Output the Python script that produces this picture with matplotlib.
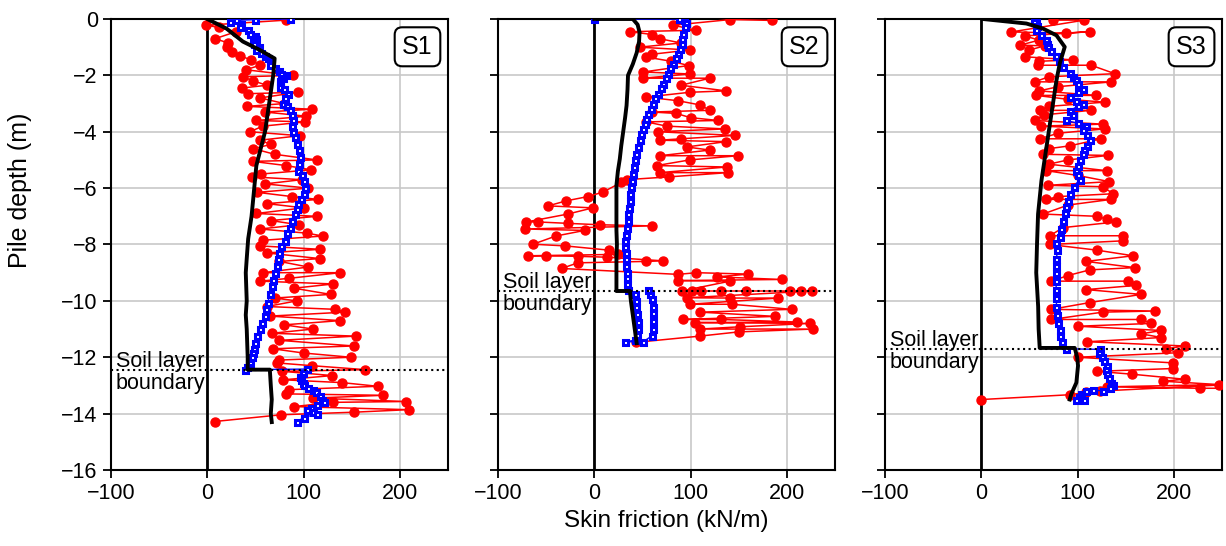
import numpy as np
import matplotlib.pyplot as plt

plt.rcParams['font.family'] = ['Liberation Sans', 'DejaVu Sans']

# ---------------- data ----------------
# S1
s1_red_depth = [-0.04, -0.22, -0.3, -0.45, -0.7, -0.85, -1.0, -1.16, -1.3, -1.45, -1.64, -1.8,
                -2.0, -2.05, -2.2, -2.35, -2.45, -2.65, -2.6, -2.8, -3.0, -3.1, -3.2, -3.3, -3.45,
                -3.6, -3.65, -3.8, -4.0, -4.14, -4.3, -4.45, -4.6, -4.8, -5.0, -5.05, -5.2, -5.35,
                -5.5, -5.6, -5.7, -5.85, -6.0, -6.15, -6.3, -6.4, -6.55, -6.7, -6.9, -7.0, -7.15,
                -7.3, -7.45, -7.6, -7.7, -7.85, -8.05, -8.17, -8.3, -8.5, -8.6, -8.8, -9.0, -9.0,
                -9.2, -9.3, -9.4, -9.55, -9.77, -9.9, -10.0, -10.2, -10.3, -10.4, -10.54, -10.7,
                -10.85, -11.0, -11.15, -11.25, -11.4, -11.6, -11.7, -11.85, -12.0, -12.1, -12.2,
                -12.3, -12.44, -12.5, -12.65, -12.8, -12.9, -13.03, -13.15, -13.3, -13.35, -13.45,
                -13.57, -13.6, -13.75, -13.86, -13.95, -14.04, -14.28]
s1_red_val = [82, -1, 12, 30, 8, 22, 20, 26, 34, 45, 55, 40,
              89, 37, 48, 62, 36, 42, 94, 55, 80, 41, 109, 60, 103,
              51, 102, 58, 44, 96, 55, 66, 48, 70, 114, 47, 82, 108,
              56, 46, 98, 60, 105, 52, 88, 115, 62, 100, 51, 114, 66,
              95, 55, 104, 120, 58, 55, 117, 62, 117, 75, 105, 58, 138,
              85, 55, 131, 90, 128, 70, 93, 62, 133, 143, 65, 138,
              80, 110, 67, 154, 75, 152, 68, 100, 149, 75, 72,
              109, 164, 78, 130, 79, 140, 177, 85, 82, 183, 110,
              206, 131, 90, 209, 152, 77, 7.6]

s1_blue_depth = [0, -0.02, -0.05, -0.1, -0.18, -0.28, -0.4, -0.52, -0.62, -0.7, -0.8, -0.87,
                 -1.0, -1.1, -1.2, -1.3, -1.4, -1.47, -1.55, -1.64, -1.75, -1.85, -1.94, -2.0,
                 -2.1, -2.2, -2.3, -2.41, -2.5, -2.65, -2.8, -3.0, -3.1, -3.24, -3.4, -3.6, -3.8,
                 -4.0, -4.2, -4.43, -4.65, -4.9, -5.15, -5.38, -5.55, -5.74, -6.0, -6.21, -6.4,
                 -6.57, -6.75, -6.92, -7.15, -7.4, -7.6, -7.87, -8.05, -8.3, -8.52, -8.75, -9.0,
                 -9.25, -9.47, -9.75, -10.06, -10.3, -10.54, -10.8, -11.0, -11.25, -11.5, -11.7,
                 -11.85, -12.0, -12.2, -12.35, -12.44,
                 -12.42, -12.55, -12.7, -12.8, -12.9, -13.0, -13.1, -13.15, -13.25, -13.37, -13.5,
                 -13.6, -13.7, -13.8, -13.86, -13.95, -14.0, -14.15, -14.28]
s1_blue_val = [86, 50, 30, 24, 35, 34, 42, 44, 50, 51, 48, 49,
               54, 51, 56, 60, 63, 65, 66, 65, 70, 74, 77, 82,
               79, 76, 76, 75.5, 80, 84, 81, 79, 83, 86, 88, 89.5, 88,
               89.5, 91, 93, 95, 96.4, 95, 94.7, 98, 100, 101, 100, 97,
               94.7, 93, 91, 88, 86, 83, 80.8, 77, 75, 73.8, 72, 70,
               68.5, 67, 65, 63, 61.5, 60, 57, 54.6, 52, 49.4, 48.5,
               47.6, 46, 44, 41, 39,
               103.5, 99, 96.4, 97, 99, 100, 105, 110, 113, 117, 119,
               120.8, 114, 108, 103.5, 110, 114, 100, 93]

s1_black_depth = [0, -0.34, -0.8, -1.1, -1.4, -2.0, -2.83, -4.0, -5.2, -6.4, -7.0, -7.8, -8.5,
                  -9.0, -9.5, -10.0, -10.5, -11.0, -11.5, -12.0, -12.44, -12.44, -13.0, -13.5,
                  -14.0, -14.3]
s1_black_val = [0, 20, 37, 54.6, 70, 68.5, 65, 60, 51, 47.7, 46, 42.5, 41,
                40, 40.5, 41, 40, 41, 41.5, 42, 42, 65, 66, 67, 66, 67]

# S2
s2_red_depth = [-0.05, -0.02, -0.22, -0.4, -0.45, -0.55, -0.7, -0.85, -1.0, -1.1, -1.25, -1.35,
                -1.5, -1.65, -1.88, -1.95, -2.1, -2.1, -2.35, -2.55, -2.6, -2.77, -2.9, -3.05,
                -3.24, -3.3, -3.35, -3.5, -3.6, -3.65, -3.8, -3.9, -4.0, -4.13, -4.25, -4.3,
                -4.35, -4.54, -4.65, -4.85, -4.85, -5.0, -5.2, -5.25, -5.45, -5.45, -5.6, -5.7,
                -5.8, -6.14, -6.3, -6.45, -6.63, -6.7, -6.92, -7.2, -7.2, -7.25, -7.3, -7.34,
                -7.45, -7.5, -7.7, -7.99, -8.05, -8.2, -8.35, -8.4, -8.4, -8.42, -8.45, -8.58,
                -8.6, -8.65, -8.85, -9.06, -9.0, -9.05, -9.15, -9.24, -9.28, -9.3, -9.65, -9.65,
                -9.65, -9.65, -9.65, -9.65, -9.65, -9.65, -9.89, -9.9, -9.9, -10.12, -10.12,
                -10.3, -10.4, -10.55, -10.66, -10.66, -10.75, -10.77, -10.8, -10.92, -11.0,
                -11.0, -11.1, -11.25, -11.47]
s2_red_val = [185, 141, 82, 106, 37, 60, 68, 90, 47, 99, 60, 54,
              80, 98, 51, 99, 51, 120, 90, 137, 99, 54, 87, 110,
              120, 60, 85, 100, 128.6, 54, 75, 135.6, 66, 146, 90, 68,
              137, 96, 120, 68, 149.5, 99, 64.7, 137.7, 68, 139, 78, 33.5,
              28, 9, -6.7, -29, -48, -1.5, -27.5, -70.5, -58.5, -27.5, 5.7, 59.5,
              -72, -10, -40, -63.6, -30, 15, 25, -68.8, -49.7, -16.8, 12.7, 71.5,
              54, -17, -34, 87, 106, 160, 127, 194.6, 87, 141, 90.6, 101,
              111, 132, 158, 203, 215, 226, 96, 141, 191, 99, 142.6,
              205, 110, 188, 92, 132, 210, 104.5, 224, 151, 109.7,
              227.5, 150, 109.7, 43.8]

s2_blue_depth = [0, 0, -0.05, -0.15, -0.3, -0.52, -0.7, -0.87, -1.05, -1.23, -1.4, -1.58, -1.75,
                 -1.94, -2.1, -2.3, -2.45, -2.65, -2.8, -3.0, -3.2, -3.36, -3.55, -3.72, -3.9,
                 -4.07, -4.3, -4.55, -4.8, -5.0, -5.25, -5.5, -5.75, -5.97, -6.2, -6.45, -6.7,
                 -6.92, -7.15, -7.4, -7.65, -7.87, -8.1, -8.3, -8.5, -8.75, -9.0, -9.2, -9.4,
                 -9.6, -9.75, -10.0, -10.2, -10.45, -10.75, -11.0, -11.2, -11.4, -11.45, -11.45,
                 -11.25, -11.0, -10.7, -10.42, -10.2, -9.95, -9.75, -9.6]
s2_blue_val = [0, 88, 93, 95, 94, 92, 91, 90.6, 89, 87, 85, 82, 79,
               76.7, 74, 71.5, 69, 66.3, 63.5, 61, 58.5, 56, 54, 52.5, 50.5,
               49, 47, 45.5, 43.5, 42, 41, 40.3, 39.5, 38.6, 37.5, 36.9, 36,
               35, 34.5, 33.5, 32.5, 32, 32, 32.5, 33, 33, 33.5, 33.5, 34,
               35, 42, 43, 43.8, 44, 45, 45, 44.5, 42, 32, 50.7,
               59.5, 61, 61, 61, 60.5, 59.5, 58, 56]

s2_black_depth = [0, 0, -0.2, -0.47, -0.8, -1.2, -1.6, -2.0, -2.5, -3.07, -3.5, -4.0, -4.5,
                  -4.96, -5.4, -5.9, -6.5, -7.0, -7.5, -8.0, -8.5, -9.0, -9.65, -9.65, -10.0,
                  -10.5, -11.0, -11.5]
s2_black_val = [0, 40, 45, 47, 46.5, 44, 40, 35, 34.5, 33.5, 32, 30, 28,
                26.5, 24.5, 23, 23, 23, 23, 23.5, 23, 23, 23, 37, 38, 40, 42, 44]

# S3
s3_red_depth = [-0.04, -0.04, -0.46, -0.5, -0.45, -0.6, -0.75, -0.93, -0.95, -1.1, -1.34, -1.45,
                -1.5, -1.64, -1.64, -1.94, -2.05, -2.23, -2.23, -2.4, -2.55, -2.71, -2.71, -2.85,
                -2.95, -3.1, -3.24, -3.24, -3.4, -3.6, -3.73, -3.8, -3.9, -4.05, -4.25, -4.25,
                -4.5, -4.6, -4.8, -4.84, -5.0, -5.15, -5.38, -5.38, -5.55, -5.77, -5.9, -5.95,
                -6.2, -6.3, -6.4, -6.4, -6.6, -6.92, -7.0, -7.1, -7.2, -7.4, -7.69, -7.69,
                -7.87, -8.0, -8.2, -8.4, -8.6, -8.82, -8.9, -9.1, -9.3, -9.3, -9.45, -9.6,
                -9.77, -10.06, -10.3, -10.36, -10.4, -10.66, -10.66, -10.8, -10.9, -11.05, -11.17,
                -11.3, -11.45, -11.6, -11.7, -11.84, -12.0, -12.2, -12.4, -12.5, -12.6, -12.78,
                -12.85, -12.97, -13.05, -13.1, -13.1, -12.95, -13.2, -13.25, -13.33, -13.5]
s3_red_val = [74, 107, 31, 88, 112.6, 45, 60, 39.8, 65.8, 50, 45, 95,
              60, 58.8, 114, 138.6, 70, 55.4, 135, 80, 60, 119.5, 57, 90,
              128, 70, 60.6, 114, 65, 55.4, 126, 62.4, 128, 80, 60.6, 124.7,
              91.8, 70, 64, 131.6, 90, 70, 130, 67.6, 100, 133, 69, 126,
              137, 80, 67.6, 135, 90, 64, 120, 130, 140, 85, 71, 147,
              147, 71, 120, 157.6, 109, 159.3, 112.6, 90, 72.8, 152, 161, 109,
              166, 112.6, 72.8, 180, 126, 72.8, 166, 176.6, 100, 187, 166,
              187, 110, 211, 192, 204, 100, 199, 199, 120, 156, 211,
              189, 247, 130, 227, 262, 268, 123, 109, 91.8, 0]

s3_blue_depth = [0, -0.1, -0.25, -0.4, -0.55, -0.75, -0.9, -1.0, -1.15, -1.3, -1.5, -1.7, -1.9,
                 -2.05, -2.18, -2.3, -2.5, -2.6, -2.77, -2.9, -3.0, -3.1, -3.25, -3.4, -3.6, -3.7,
                 -3.8, -3.95, -4.1, -4.3, -4.5, -4.65, -4.8, -5.0, -5.2, -5.4, -5.55, -5.7, -5.95,
                 -6.2, -6.45, -6.67, -6.9, -7.16, -7.45, -7.75, -7.93, -8.2, -8.5, -8.75, -9.0,
                 -9.3, -9.6, -9.9, -10.2, -10.5, -10.8, -11.05, -11.25, -11.45, -11.7,
                 -11.72, -11.85, -12.0, -12.15, -12.3, -12.45, -12.6, -12.75, -12.9, -13.0,
                 -13.1, -13.2, -13.15, -13.2, -13.3, -13.4, -13.5, -13.5]
s3_blue_val = [57, 55, 58, 57, 62, 67.6, 68, 69, 72, 78, 81, 84.8, 91.8,
               95, 98.7, 100, 105.6, 100, 91.8, 98, 105.6, 100, 91.8, 95, 88.4, 100,
               109, 106, 110, 112.6, 110, 107, 105.6, 102, 100, 98.7, 100, 102, 96,
               91.8, 90, 88.4, 86.5, 84.8, 83, 81.4, 78, 79, 78, 77.5, 78,
               78, 77.5, 78, 78, 79, 80, 81.4, 81.4, 84, 88.4,
               123, 122, 125, 127, 130, 129, 131, 133, 135, 137,
               134, 126, 115.7, 109, 104, 101, 98.7, 107]

s3_black_depth = [0, -0.16, -0.34, -0.58, -0.99, -1.58, -2.18, -3.36, -4.55, -5.74, -6.92, -8.0,
                  -9.0, -10.2, -11.0, -11.67, -11.67, -12.0, -12.3, -12.9, -13.3, -13.5]
s3_black_val = [1.7, 46.8, 64, 78, 86.6, 81.4, 78, 72.8, 67.6, 62.4, 58.9, 57.8,
                57, 59, 59.5, 60.6, 97, 99.5, 100.4, 98.7, 93.5, 91.8]

panel_names = ["S1", "S2", "S3"]
boundary_depth = [-12.44, -9.65, -11.7]

# ---------------- figure ----------------
fig = plt.figure(figsize=(12.26, 5.46), dpi=100)
lefts = [0.0905, 0.4062, 0.7219]
axes = [fig.add_axes([l, 0.1392, 0.2749, 0.826]) for l in lefts]

series = [
    (s1_red_depth, s1_red_val, s1_blue_depth, s1_blue_val, s1_black_depth, s1_black_val),
    (s2_red_depth, s2_red_val, s2_blue_depth, s2_blue_val, s2_black_depth, s2_black_val),
    (s3_red_depth, s3_red_val, s3_blue_depth, s3_blue_val, s3_black_depth, s3_black_val),
]

for i, ax in enumerate(axes):
    rd, rv, bd, bv, kd, kv = series[i]
    ax.grid(True, color="#c8c8c8", lw=1.2, zorder=0)
    ax.axvline(0, color="black", lw=2, zorder=2)
    ax.plot(rv, rd, "-o", color="red", lw=1.1, ms=6.5, zorder=3)
    ax.plot(bv, bd, "-s", color="blue", lw=1, ms=3.6, mfc="white", mec="blue", mew=2.2, zorder=4)
    ax.plot(kv, kd, "-", color="black", lw=2.8, zorder=5)
    ax.axhline(boundary_depth[i], color="black", ls=":", lw=1.5, zorder=6)
    ax.text(-95, boundary_depth[i] - 0.1, "Soil layer\nboundary", fontsize=15.5,
            va="center", ha="left", linespacing=1.05, zorder=7)
    ax.text(0.955, 0.965, panel_names[i], transform=ax.transAxes, fontsize=18,
            ha="right", va="top", zorder=8,
            bbox=dict(boxstyle="round,pad=0.3", fc="white", ec="black", lw=1.5))

    ax.set_xlim(-100, 250)
    ax.set_ylim(-16, 0)
    ax.set_xticks([-100, 0, 100, 200])
    ax.set_yticks(np.arange(-16, 1, 2))
    ax.tick_params(labelsize=15.5, width=1.3, length=6)
    for s in ax.spines.values():
        s.set_linewidth(1.5)
    if i > 0:
        ax.set_yticklabels([])

axes[0].set_ylabel("Pile depth (m)", fontsize=18)
axes[0].yaxis.set_label_coords(-0.235, 0.62)
axes[1].set_xlabel("Skin friction (kN/m)", fontsize=17.5)

fig.savefig("out.png", dpi=100)
